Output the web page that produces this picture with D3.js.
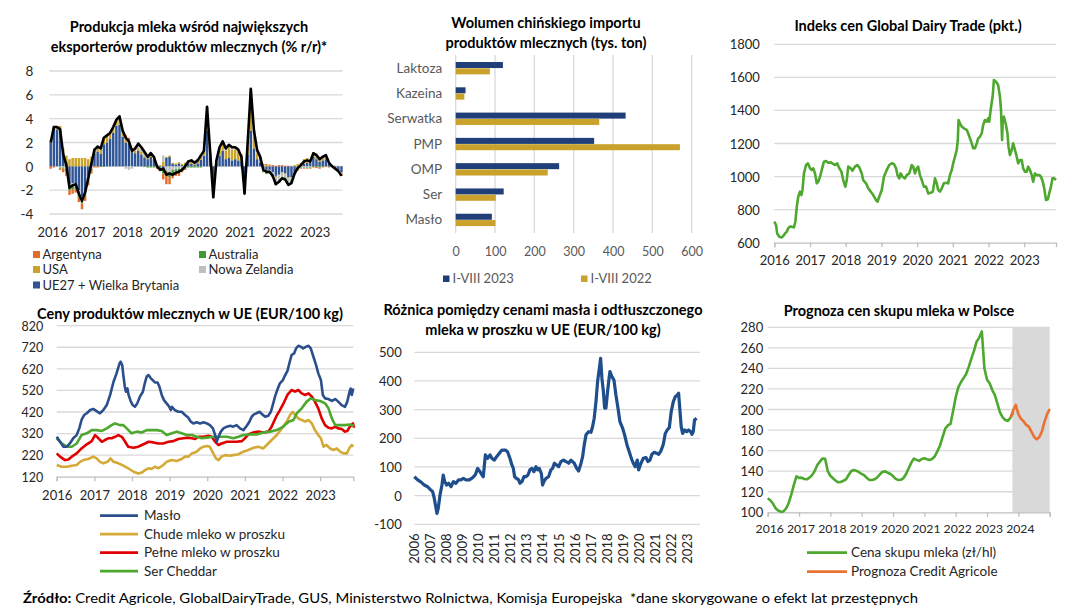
<!DOCTYPE html>
<html><head><meta charset="utf-8">
<script src="https://cdn.jsdelivr.net/npm/d3@7"></script>
<style>body{margin:0;background:#fff}svg{display:block}</style>
</head><body><svg id="c" width="1083" height="609"></svg>
<script>
// ================= DATA =================
// Panel 1: milk production y/y (%) monthly from Jan 2016
const prodStart = 2016;
const prodYears = [2016,2017,2018,2019,2020,2021,2022,2023];
const prodTicks = [-4,-2,0,2,4,6,8];
const prodEU = [2.0,3.25,3.1,3.2,1.1,0.4,-1.5,-1.4,-1.4,-2.0,-2.5,-2.0,
 -0.8,0.3,1.1,1.25,1.05,1.85,2.0,2.3,2.8,3.4,3.5,2.5,
 2.0,1.9,1.2,1.1,1.3,1.0,0.75,0.6,0.8,0.6,0.0,-0.1,
 -0.3,0.7,0.8,0.2,0.15,0.25,0.1,0.1,0.3,0.2,0.1,0.25,
 0.55,0.9,3.0,0.8,-1.6,0.3,0.9,1.3,0.6,0.7,0.5,0.6,
 0.5,0.4,-1.4,1.0,3.0,1.5,0.6,0.3,-0.2,-0.3,-0.3,-0.5,
 -0.8,-0.7,-0.5,-0.6,-0.9,-0.9,-0.5,-0.2,0.0,0.2,0.3,0.3,
 0.8,0.6,0.4,0.5,0.6,0.2,0.0,-0.2,-0.3,-0.5];
const prodUSA = [0.1,0.15,0.2,0.2,0.4,0.5,0.6,0.7,0.7,0.7,0.7,0.7,
 0.6,0.5,0.4,0.4,0.4,0.5,0.5,0.5,0.4,0.4,0.4,0.3,
 0.3,0.3,0.2,0.2,0.2,0.2,0.1,0.1,0.1,0.1,0.1,0.1,
 0.4,0.1,0.1,0.1,0.1,0.1,0.1,0.2,0.2,0.3,0.3,0.3,
 0.3,0.3,1.2,0.3,-0.6,0.2,0.6,0.7,0.7,0.9,0.9,0.8,
 0.7,0.5,-0.6,0.6,2.0,1.0,0.5,0.3,0.1,0.1,0.05,0.0,
 -0.1,-0.05,-0.05,-0.05,-0.1,0.0,0.1,0.2,0.3,0.4,0.4,0.3,
 0.4,0.4,0.3,0.3,0.3,0.1,0.05,0.05,0.0,-0.05];
const prodNZ = [0.1,0.0,0.0,-0.1,-0.1,-0.2,-0.3,-0.3,-0.3,-0.4,-0.5,-0.4,
 -0.3,-0.2,0.0,0.1,0.1,0.1,0.1,0.0,0.1,0.1,0.2,0.0,
 -0.2,-0.3,-0.2,0.1,0.3,0.3,0.3,0.2,0.3,0.2,0.1,0.0,
 0.5,-0.4,-0.5,-0.3,-0.25,-0.2,-0.1,0.0,0.0,0.1,0.0,0.0,
 0.1,0.1,0.6,0.1,-0.3,0.0,0.1,0.1,0.2,0.2,0.2,0.1,
 0.1,-0.2,-0.2,0.3,1.0,0.3,0.1,0.0,-0.2,-0.2,-0.2,-0.3,
 -0.5,-0.5,-0.4,-0.3,-0.4,-0.3,0.0,0.0,-0.1,-0.1,-0.1,-0.1,
 0.0,0.1,0.1,0.1,0.1,0.1,0.0,0.0,-0.05,-0.1];
const prodARG = [-0.2,-0.1,0.0,-0.1,-0.3,-0.4,-0.4,-0.4,-0.3,-0.4,-0.5,-0.4,
 -0.4,-0.3,-0.1,-0.1,0.0,0.0,0.0,0.0,0.0,0.0,0.1,0.2,
 0.3,0.2,0.1,0.1,0.1,0.1,0.1,0.0,0.0,0.0,-0.1,-0.2,
 -0.5,-0.7,-0.6,-0.4,-0.3,-0.3,-0.2,-0.1,0.0,0.0,0.0,0.05,
 0.05,0.0,0.1,0.0,-0.05,0.0,0.0,0.0,0.0,0.0,0.0,0.1,
 0.1,0.1,-0.05,0.1,0.3,0.1,0.2,0.2,0.1,0.1,0.1,0.1,
 0.05,0.1,0.1,0.05,0.05,0.0,0.0,-0.05,-0.05,-0.05,-0.05,-0.05,
 -0.05,-0.1,-0.1,-0.05,-0.05,-0.05,-0.05,-0.05,-0.05,-0.1];
const prodAUS = [0.0,0.0,0.0,-0.1,-0.1,-0.2,-0.2,-0.2,-0.2,-0.2,-0.1,-0.1,
 -0.1,-0.1,0.0,0.0,-0.05,-0.05,0.0,0.0,0.0,0.0,0.0,0.0,
 0.0,0.0,0.0,0.0,0.0,0.0,-0.05,-0.1,-0.1,-0.1,-0.1,-0.1,
 -0.3,-0.4,-0.4,-0.3,-0.25,-0.3,-0.2,-0.2,-0.1,-0.1,-0.1,-0.1,
 -0.1,0.0,0.1,0.0,-0.05,0.0,0.0,0.0,0.0,0.0,0.0,0.0,
 0.0,0.0,-0.05,0.0,0.2,0.1,0.0,0.0,-0.1,-0.15,-0.1,-0.1,
 -0.15,-0.15,-0.15,-0.2,-0.2,-0.2,-0.2,-0.1,-0.05,-0.05,-0.05,-0.05,
 -0.05,-0.05,-0.1,-0.05,0.0,-0.05,0.0,0.0,0.0,-0.05];
const prodTotal = [2.0,3.3,3.3,3.1,1.0,0.1,-1.8,-1.6,-1.5,-2.3,-2.9,-2.2,
 -1.0,0.2,1.4,1.65,1.5,2.4,2.6,2.8,3.3,3.9,4.2,3.0,
 2.4,2.1,1.3,1.5,1.9,1.6,1.2,0.8,1.1,0.8,0.0,-0.3,
 -0.2,-0.7,-0.6,-0.7,-0.55,-0.45,-0.3,0.0,0.4,0.5,0.3,0.5,
 0.9,1.3,5.0,1.2,-2.6,0.5,1.6,2.1,1.5,1.8,1.6,1.6,
 1.4,0.8,-2.3,2.0,6.5,3.0,1.4,0.8,-0.3,-0.45,-0.45,-0.8,
 -1.5,-1.3,-1.0,-1.1,-1.55,-1.4,-0.6,-0.15,0.1,0.4,0.5,0.4,
 1.1,0.95,0.6,0.8,0.95,0.3,0.0,-0.2,-0.4,-0.8];

// Panel 2: Chinese imports (thous. t)
const chinaCategories = ["Laktoza","Kazeina","Serwatka","PMP","OMP","Ser","Masło"];
const china2023 = [120,25,432,352,263,122,92];
const china2022 = [87,22,365,570,234,102,101];
const chinaTicks = [0,100,200,300,400,500,600];

// Panel 3: GDT index [year, points]
const gdtIndex = [[2016.00,727],[2016.05,707],[2016.08,656],[2016.14,636],[2016.21,632],[2016.25,640],[2016.30,656],[2016.35,667],[2016.39,687],[2016.44,697],[2016.49,697],[2016.55,693],[2016.59,727],[2016.63,818],[2016.67,878],[2016.72,909],[2016.76,888],[2016.79,919],[2016.83,1019],[2016.89,1070],[2016.94,1080],[2017.00,1050],[2017.05,1040],[2017.09,1050],[2017.14,1019],[2017.19,959],[2017.23,969],[2017.28,999],[2017.33,1040],[2017.39,1090],[2017.45,1094],[2017.51,1084],[2017.58,1086],[2017.65,1076],[2017.71,1070],[2017.76,1080],[2017.82,1050],[2017.88,1030],[2017.93,979],[2017.99,939],[2018.03,979],[2018.07,1060],[2018.14,1050],[2018.19,1036],[2018.26,1060],[2018.32,1070],[2018.38,1056],[2018.45,1019],[2018.49,979],[2018.57,959],[2018.63,929],[2018.70,909],[2018.77,888],[2018.85,858],[2018.89,848],[2018.94,878],[2019.01,919],[2019.07,999],[2019.15,1040],[2019.22,1070],[2019.29,1080],[2019.35,1076],[2019.41,1050],[2019.45,1009],[2019.50,989],[2019.54,1019],[2019.59,999],[2019.66,989],[2019.71,1009],[2019.78,1019],[2019.85,1070],[2019.89,1060],[2019.94,1019],[2019.99,1050],[2020.03,1060],[2020.08,1009],[2020.13,979],[2020.19,939],[2020.25,939],[2020.31,898],[2020.38,902],[2020.44,909],[2020.50,989],[2020.55,959],[2020.59,919],[2020.64,909],[2020.69,929],[2020.75,959],[2020.83,963],[2020.87,959],[2020.92,1009],[2020.97,1040],[2021.01,1080],[2021.06,1120],[2021.11,1161],[2021.14,1221],[2021.16,1342],[2021.20,1322],[2021.25,1302],[2021.31,1292],[2021.39,1282],[2021.43,1262],[2021.48,1231],[2021.53,1201],[2021.57,1171],[2021.62,1171],[2021.67,1201],[2021.71,1231],[2021.76,1241],[2021.81,1262],[2021.85,1312],[2021.90,1342],[2021.95,1332],[2021.99,1352],[2022.02,1332],[2022.06,1403],[2022.12,1493],[2022.15,1584],[2022.21,1574],[2022.27,1554],[2022.32,1483],[2022.35,1403],[2022.38,1221],[2022.40,1352],[2022.43,1362],[2022.49,1312],[2022.53,1262],[2022.56,1181],[2022.60,1130],[2022.65,1161],[2022.69,1201],[2022.74,1161],[2022.79,1120],[2022.83,1080],[2022.88,1100],[2022.93,1100],[2022.97,1050],[2023.02,1030],[2023.07,1030],[2023.11,1060],[2023.16,1040],[2023.21,1009],[2023.25,969],[2023.30,1019],[2023.35,1009],[2023.42,1009],[2023.47,999],[2023.52,969],[2023.56,929],[2023.61,858],[2023.66,862],[2023.70,898],[2023.75,939],[2023.79,989],[2023.84,989],[2023.89,979]];
const gdtTicks = [600,800,1000,1200,1400,1600,1800];
const gdtYears = [2016,2017,2018,2019,2020,2021,2022,2023];

// Panel 4: EU dairy prices (EUR/100 kg) [year, value]
const euMaslo = [[2016.00,305],[2016.09,282],[2016.18,259],[2016.27,259],[2016.35,274],[2016.44,298],[2016.53,313],[2016.60,344],[2016.66,383],[2016.73,406],[2016.80,414],[2016.89,429],[2016.97,434],[2017.06,424],[2017.15,414],[2017.24,429],[2017.33,452],[2017.42,499],[2017.51,560],[2017.59,599],[2017.67,645],[2017.70,653],[2017.74,638],[2017.77,591],[2017.81,537],[2017.84,514],[2017.88,529],[2017.91,499],[2017.97,468],[2018.02,452],[2018.08,444],[2018.14,460],[2018.21,491],[2018.29,514],[2018.34,553],[2018.39,584],[2018.44,591],[2018.50,576],[2018.55,568],[2018.61,557],[2018.68,557],[2018.73,537],[2018.79,499],[2018.85,475],[2018.92,460],[2018.99,444],[2019.03,429],[2019.06,444],[2019.14,429],[2019.23,421],[2019.32,421],[2019.41,406],[2019.50,393],[2019.56,375],[2019.63,367],[2019.72,372],[2019.81,367],[2019.90,372],[2019.99,367],[2020.07,359],[2020.15,344],[2020.21,313],[2020.25,282],[2020.30,305],[2020.36,329],[2020.43,344],[2020.52,352],[2020.61,356],[2020.69,352],[2020.78,359],[2020.87,344],[2020.96,336],[2021.05,356],[2021.12,375],[2021.18,398],[2021.24,409],[2021.31,414],[2021.39,421],[2021.46,409],[2021.54,398],[2021.62,403],[2021.69,421],[2021.74,452],[2021.80,491],[2021.86,522],[2021.93,553],[2022.01,568],[2022.07,591],[2022.13,610],[2022.18,645],[2022.24,684],[2022.31,692],[2022.36,715],[2022.42,727],[2022.48,723],[2022.55,715],[2022.63,723],[2022.69,727],[2022.75,715],[2022.82,676],[2022.89,638],[2022.95,599],[2023.02,568],[2023.07,499],[2023.13,483],[2023.22,480],[2023.31,471],[2023.40,480],[2023.48,468],[2023.57,452],[2023.66,444],[2023.72,468],[2023.78,514],[2023.81,529],[2023.84,499],[2023.88,529]];
const euChude = [[2016.00,174],[2016.13,166],[2016.27,166],[2016.40,171],[2016.53,174],[2016.62,189],[2016.71,197],[2016.84,202],[2016.97,213],[2017.06,205],[2017.15,189],[2017.24,182],[2017.35,189],[2017.43,205],[2017.51,189],[2017.64,182],[2017.77,171],[2017.90,159],[2018.04,143],[2018.17,135],[2018.26,139],[2018.35,151],[2018.44,159],[2018.52,156],[2018.61,166],[2018.70,159],[2018.83,174],[2018.92,189],[2019.06,197],[2019.19,193],[2019.32,202],[2019.41,213],[2019.50,213],[2019.59,228],[2019.72,236],[2019.81,251],[2019.90,259],[2019.99,262],[2020.07,259],[2020.16,228],[2020.23,205],[2020.30,197],[2020.38,213],[2020.47,220],[2020.61,217],[2020.69,220],[2020.83,224],[2020.96,236],[2021.09,244],[2021.23,254],[2021.36,259],[2021.49,251],[2021.58,267],[2021.71,290],[2021.85,313],[2021.98,344],[2022.11,375],[2022.20,406],[2022.27,421],[2022.33,406],[2022.42,390],[2022.51,383],[2022.60,375],[2022.69,383],[2022.78,367],[2022.86,336],[2022.95,313],[2023.02,298],[2023.09,259],[2023.17,267],[2023.26,251],[2023.35,244],[2023.44,251],[2023.53,236],[2023.62,228],[2023.71,228],[2023.78,254],[2023.84,267],[2023.88,259]];
const euPelne = [[2016.00,228],[2016.09,213],[2016.22,197],[2016.31,200],[2016.40,213],[2016.53,228],[2016.66,251],[2016.80,270],[2016.93,285],[2017.02,313],[2017.11,298],[2017.20,282],[2017.28,290],[2017.37,298],[2017.46,298],[2017.55,305],[2017.64,313],[2017.73,305],[2017.82,282],[2017.90,259],[2018.04,254],[2018.17,259],[2018.26,267],[2018.35,274],[2018.44,282],[2018.57,279],[2018.70,274],[2018.83,274],[2018.97,282],[2019.10,285],[2019.23,295],[2019.37,298],[2019.50,301],[2019.59,298],[2019.68,295],[2019.76,305],[2019.90,305],[2020.03,310],[2020.12,305],[2020.21,282],[2020.30,267],[2020.38,274],[2020.52,282],[2020.65,282],[2020.78,282],[2020.92,285],[2021.00,298],[2021.09,316],[2021.22,325],[2021.36,329],[2021.49,325],[2021.62,329],[2021.71,352],[2021.83,398],[2021.93,429],[2022.04,465],[2022.13,499],[2022.24,522],[2022.33,514],[2022.42,522],[2022.51,506],[2022.60,499],[2022.69,506],[2022.78,491],[2022.86,468],[2022.95,437],[2023.04,390],[2023.13,359],[2023.22,347],[2023.31,344],[2023.40,352],[2023.48,344],[2023.57,341],[2023.66,329],[2023.72,332],[2023.79,352],[2023.87,367],[2023.90,347]];
const euCheddar = [[2016.00,298],[2016.13,274],[2016.27,259],[2016.40,259],[2016.53,274],[2016.66,313],[2016.80,321],[2016.93,336],[2017.06,336],[2017.20,332],[2017.33,344],[2017.46,359],[2017.55,367],[2017.68,359],[2017.77,359],[2017.86,344],[2017.99,321],[2018.13,329],[2018.26,325],[2018.39,336],[2018.52,336],[2018.66,336],[2018.79,332],[2018.92,313],[2019.06,321],[2019.19,329],[2019.32,321],[2019.45,313],[2019.59,313],[2019.72,305],[2019.85,298],[2019.99,301],[2020.16,305],[2020.34,305],[2020.52,305],[2020.69,298],[2020.83,305],[2020.96,313],[2021.14,316],[2021.31,316],[2021.49,325],[2021.67,329],[2021.85,336],[2022.02,352],[2022.16,375],[2022.29,383],[2022.38,414],[2022.51,437],[2022.64,468],[2022.75,483],[2022.86,475],[2023.00,471],[2023.13,460],[2023.22,437],[2023.31,390],[2023.40,359],[2023.53,359],[2023.66,359],[2023.79,362],[2023.90,356]];
const euTicks = [120,220,320,420,520,620,720,820];
const euYears = [2016,2017,2018,2019,2020,2021,2022,2023];
const euNames = ["Masło","Chude mleko w proszku","Pełne mleko w proszku","Ser Cheddar"];

// Panel 5: butter - SMP spread [year, EUR/100kg]
const spread = [[2006.00,66],[2006.21,55],[2006.42,47],[2006.62,37],[2006.83,31],[2006.97,23],[2007.14,14],[2007.24,-9],[2007.35,-44],[2007.41,-62],[2007.49,-44],[2007.60,2],[2007.72,37],[2007.80,72],[2007.89,49],[2008.01,37],[2008.14,43],[2008.28,31],[2008.43,49],[2008.59,43],[2008.76,55],[2008.90,55],[2009.05,60],[2009.21,55],[2009.42,55],[2009.63,63],[2009.79,72],[2009.94,95],[2010.08,84],[2010.21,72],[2010.29,66],[2010.42,142],[2010.56,130],[2010.71,142],[2010.83,130],[2010.98,124],[2011.12,136],[2011.29,148],[2011.45,159],[2011.66,159],[2011.80,153],[2011.95,130],[2012.07,107],[2012.16,95],[2012.24,66],[2012.36,60],[2012.49,55],[2012.57,43],[2012.70,49],[2012.82,66],[2012.94,66],[2013.07,72],[2013.19,90],[2013.32,95],[2013.44,84],[2013.57,101],[2013.67,90],[2013.77,95],[2013.90,78],[2013.98,37],[2014.06,49],[2014.19,60],[2014.35,66],[2014.50,90],[2014.60,95],[2014.71,113],[2014.85,107],[2014.98,101],[2015.12,119],[2015.27,124],[2015.43,119],[2015.60,113],[2015.74,124],[2015.95,113],[2016.10,95],[2016.22,86],[2016.37,113],[2016.47,136],[2016.57,177],[2016.68,212],[2016.84,223],[2016.99,221],[2017.09,241],[2017.19,270],[2017.30,328],[2017.40,398],[2017.51,444],[2017.59,479],[2017.67,409],[2017.75,369],[2017.84,305],[2017.92,305],[2018.00,351],[2018.09,398],[2018.17,433],[2018.29,415],[2018.42,403],[2018.54,351],[2018.67,305],[2018.79,258],[2018.96,235],[2019.08,212],[2019.23,177],[2019.37,153],[2019.50,130],[2019.62,113],[2019.74,101],[2019.87,124],[2019.95,90],[2020.10,113],[2020.24,130],[2020.41,133],[2020.53,119],[2020.66,124],[2020.78,144],[2020.93,151],[2021.07,148],[2021.20,144],[2021.34,156],[2021.49,179],[2021.61,217],[2021.73,229],[2021.86,237],[2021.98,293],[2022.11,328],[2022.23,345],[2022.36,351],[2022.44,357],[2022.52,299],[2022.60,241],[2022.69,217],[2022.81,229],[2022.94,223],[2023.06,229],[2023.19,223],[2023.27,214],[2023.35,223],[2023.43,264],[2023.56,270]];
const spreadTicks = [-100,0,100,200,300,400,500];
const spreadYears = d3.range(2006, 2024);

// Panel 6: milk purchase price in Poland (zł/hl), monthly from Jan 2016
const milkStart = 2016;
const milkPrice = [113.6,111.7,108.5,104,101.8,100.6,100.8,103.5,108.8,117,126.5,135,
 133.5,133.7,132.4,132.1,133.7,136.2,140.2,146,149.3,152.4,152,140,
 135.5,133.2,130.8,129.2,129.5,130.7,132,136.3,140.2,141.2,140.3,139,
 137.3,135.9,133.4,131.4,131.4,132.2,134.1,137,139.5,139.8,138.5,137.3,
 135.3,132.5,131.5,131.6,133.3,137.2,142.8,148.3,152.3,151,150,151.9,
 152.5,151.6,150.9,152,154.5,159.5,165,173.4,181.5,184.5,186,198.5,
 212,221.5,226.5,230.5,234.5,241.5,249.5,257,266,270,276,240,
 229,225.5,219,214,205.5,197,192.3,189.8,188.9,192,197];
const forecastStartMonth = 93;
const milkForecast = [192,199,204.5,195.5,191,188.5,185,183.3,178.5,173.6,171,173,178.5,188,195.5,200.5];
const forecastShadeFrom = 2023.81;
const milkTicks = [100,120,140,160,180,200,220,240,260,280];
const milkYears = [2016,2017,2018,2019,2020,2021,2022,2023,2024];

// ================= DRAWING =================
const FONT = 'Lato, "Noto Sans", sans-serif';
const GRID = '#d9d9d9', TXT = '#262626', NUM = 13;
const svg = d3.select('#c').attr('font-family', FONT);
svg.append('rect').attr('width',1083).attr('height',609).attr('fill','#fff');

function titleLines(lines, cx, ys, size) {
  lines.forEach((t,i)=>svg.append('text').attr('x',cx).attr('y',ys[i]).attr('dy','0.35em')
    .attr('text-anchor','middle').attr('font-weight','bold').attr('font-size',size||14.5)
    .attr('fill','#000').text(t));
}
function hGrid(ticks, y, xa, xb) {
  svg.append('g').selectAll('line').data(ticks).join('line')
    .attr('x1',xa).attr('x2',xb).attr('y1',d=>y(d)).attr('y2',d=>y(d))
    .attr('stroke',GRID).attr('stroke-width',1.3);
}
function yAxis(scale, ticks, xPos, pad, size, color) {
  const g = svg.append('g').attr('transform',`translate(${xPos},0)`)
    .call(d3.axisLeft(scale).tickValues(ticks).tickSize(0).tickPadding(pad).tickFormat(d=>d));
  g.select('.domain').remove();
  g.selectAll('text').attr('font-size',size).attr('fill',color||TXT).attr('font-family',FONT).attr('dy','0.35em');
  return g;
}
function xAxisBottom(scale, ticks, yPos, labelY, size, tickLen, color) {
  const g = svg.append('g').attr('transform',`translate(0,${yPos})`)
    .call(d3.axisBottom(scale).tickValues(ticks).tickSize(tickLen).tickFormat(d3.format('d')));
  g.select('.domain').attr('stroke','#bfbfbf').attr('stroke-width',1.3);
  g.selectAll('.tick line').attr('stroke','#bfbfbf').attr('stroke-width',1.3);
  g.selectAll('text').attr('font-size',size).attr('fill',color||TXT).attr('font-family',FONT)
    .attr('y',labelY-yPos).attr('dy','0.35em');
  return g;
}

// ---------- Panel 1 ----------
titleLines(["Produkcja mleka wśród największych","eksporterów produktów mlecznych (% r/r)*"],189,[26.5,46.5]);
const x1 = d3.scaleBand().domain(d3.range(prodTotal.length)).range([49.5,342.7]).paddingInner(0.22).paddingOuter(0);
const y1 = d3.scaleLinear().domain([-4,8]).range([214,71]);
hGrid(prodTicks, y1, 49.3, 342.5);
yAxis(y1, prodTicks, 49.3, 16, 13.5);
const rows1 = prodTotal.map((t,i)=>({eu:prodEU[i],usa:prodUSA[i],nz:prodNZ[i],aus:prodAUS[i],arg:prodARG[i]}));
const keys1 = ['eu','usa','nz','aus','arg'];
const col1 = {eu:'#2f5597',usa:'#c9a227',nz:'#bfbfbf',aus:'#3f9a35',arg:'#e46c2a'};
const stack1 = d3.stack().keys(keys1).offset(d3.stackOffsetDiverging)(rows1);
svg.append('g').selectAll('g').data(stack1).join('g').attr('fill',d=>col1[d.key])
  .selectAll('rect').data(d=>d).join('rect')
  .attr('x',(d,i)=>x1(i)).attr('width',x1.bandwidth())
  .attr('y',d=>y1(Math.max(d[0],d[1]))).attr('height',d=>Math.abs(y1(d[0])-y1(d[1])));
svg.append('path').datum(prodTotal)
  .attr('d',d3.line().x((d,i)=>x1(i)+x1.bandwidth()/2).y(d=>y1(d)))
  .attr('fill','none').attr('stroke','#000').attr('stroke-width',2.6).attr('stroke-linejoin','round');
svg.append('g').selectAll('text').data(prodYears).join('text')
  .attr('x',d=>x1((d-prodStart)*12+1)).attr('y',232).attr('dy','0.35em').attr('text-anchor','middle')
  .attr('font-size',NUM).attr('fill',TXT).text(d=>d);
const leg1 = [{k:'arg',t:'Argentyna',x:33,y:254.5},{k:'aus',t:'Australia',x:199,y:254.5},
  {k:'usa',t:'USA',x:33,y:269.5},{k:'nz',t:'Nowa Zelandia',x:199,y:269.5},{k:'eu',t:'UE27 + Wielka Brytania',x:33,y:285}];
leg1.forEach(l=>{
  svg.append('rect').attr('x',l.x).attr('y',l.y-3.5).attr('width',7).attr('height',7).attr('fill',col1[l.k]);
  svg.append('text').attr('x',l.x+9.5).attr('y',l.y).attr('dy','0.35em').attr('font-size',13).attr('fill',TXT).text(l.t);
});

// ---------- Panel 2 ----------
titleLines(["Wolumen chińskiego importu","produktów mlecznych (tys. ton)"],546,[22.5,42.5]);
const x2 = d3.scaleLinear().domain([0,600]).range([455.7,691.7]);
const y2 = d3.scaleBand().domain(chinaCategories).range([55.7,232.7]).paddingInner(0.5).paddingOuter(0.25);
const y2s = d3.scaleBand().domain(['2023','2022']).range([0,y2.bandwidth()]);
svg.append('g').selectAll('line').data(chinaTicks).join('line')
  .attr('x1',d=>x2(d)).attr('x2',d=>x2(d)).attr('y1',55).attr('y2',233)
  .attr('stroke',GRID).attr('stroke-width',1.3);
const rows2 = chinaCategories.map((c,i)=>({c, v:[{k:'2023',v:china2023[i]},{k:'2022',v:china2022[i]}]}));
const col2 = {'2023':'#203f78','2022':'#c9a12b'};
svg.append('g').selectAll('g').data(rows2).join('g').attr('transform',d=>`translate(0,${y2(d.c)})`)
  .selectAll('rect').data(d=>d.v).join('rect')
  .attr('x',x2(0)).attr('y',d=>y2s(d.k)).attr('height',y2s.bandwidth()-0.3)
  .attr('width',d=>x2(d.v)-x2(0)).attr('fill',d=>col2[d.k]);
const g2y = svg.append('g').attr('transform',`translate(${x2(0)},0)`)
  .call(d3.axisLeft(y2).tickSize(0).tickPadding(13.5));
g2y.select('.domain').remove();
g2y.selectAll('text').attr('font-size',13.5).attr('fill','#595959').attr('font-family',FONT);
const g2x = svg.append('g').attr('transform','translate(0,233)')
  .call(d3.axisBottom(x2).tickValues(chinaTicks).tickSize(0));
g2x.select('.domain').remove();
g2x.selectAll('text').attr('font-size',12.5).attr('fill','#595959').attr('font-family',FONT).attr('y',19).attr('dy','0.35em');
[{k:'2023',t:'I-VIII 2023',x:443},{k:'2022',t:'I-VIII 2022',x:581}].forEach(l=>{
  svg.append('rect').attr('x',l.x).attr('y',275.5).attr('width',6.5).attr('height',6.5).attr('fill',col2[l.k]);
  svg.append('text').attr('x',l.x+9.5).attr('y',278.7).attr('dy','0.35em').attr('font-size',13).attr('fill','#595959').text(l.t);
});

// ---------- Panel 3 ----------
titleLines(["Indeks cen Global Dairy Trade (pkt.)"],908,[26]);
const x3 = d3.scaleLinear().domain([2016,2023.89]).range([774.3,1056]);
const y3 = d3.scaleLinear().domain([600,1800]).range([242.7,44.3]);
hGrid(gdtTicks.slice(1), y3, 774.3, 1056);
yAxis(y3, gdtTicks, 774.3, 14.5, NUM);
xAxisBottom(x3, gdtYears, 242.7, 260.7, NUM, 4.5);
svg.append('path').datum(gdtIndex).attr('d',d3.line().x(d=>x3(d[0])).y(d=>y3(d[1])))
  .attr('fill','none').attr('stroke','#4ea72e').attr('stroke-width',2.6).attr('stroke-linejoin','round');

// ---------- Panel 4 ----------
titleLines(["Ceny produktów mlecznych w UE (EUR/100 kg)"],190,[314]);
const x4 = d3.scaleLinear().domain([2016,2023.88]).range([56.7,353.3]);
const y4 = d3.scaleLinear().domain([120,820]).range([476.7,325.7]);
hGrid(euTicks.slice(1), y4, 56.7, 353.3);
yAxis(y4, euTicks, 56.7, 13.5, 12.5);
xAxisBottom(x4, euYears, 476.7, 495, NUM, 4.5);
const col4 = ['#2b4f8c','#d4a937','#e00000','#4ea72e'];
const line4 = d3.line().x(d=>x4(d[0])).y(d=>y4(d[1]));
[euChude, euPelne, euCheddar, euMaslo].forEach((s,i)=>{
  const ci = [1,2,3,0][i];
  svg.append('path').datum(s).attr('d',line4).attr('fill','none').attr('stroke',col4[ci])
    .attr('stroke-width',2.6).attr('stroke-linejoin','round');
});
euNames.forEach((n,i)=>{
  const y = [515.7,534.2,552.7,571.2][i];
  svg.append('line').attr('x1',100).attr('x2',138).attr('y1',y).attr('y2',y).attr('stroke',col4[i]).attr('stroke-width',2.8);
  svg.append('text').attr('x',144).attr('y',y).attr('dy','0.35em').attr('font-size',13.5).attr('fill',TXT).text(n);
});

// ---------- Panel 5 ----------
titleLines(["Różnica pomiędzy cenami masła i odtłuszczonego","mleka w proszku w UE (EUR/100 kg)"],543,[310,330]);
const x5 = d3.scaleLinear().domain([2006,2023.77]).range([414.3,700]);
const y5 = d3.scaleLinear().domain([-100,500]).range([524.3,352.3]);
hGrid(spreadTicks, y5, 414.3, 700);
yAxis(y5, spreadTicks, 414.3, 12.6, NUM);
svg.append('g').selectAll('text').data(spreadYears).join('text')
  .attr('transform',d=>`translate(${x5(d)},533.5) rotate(-90)`)
  .attr('text-anchor','end').attr('dy','0.35em').attr('font-size',NUM).attr('fill',TXT).text(d=>d);
svg.append('path').datum(spread).attr('d',d3.line().x(d=>x5(d[0])).y(d=>y5(d[1])))
  .attr('fill','none').attr('stroke','#1f4e8c').attr('stroke-width',3.2).attr('stroke-linejoin','round');

// ---------- Panel 6 ----------
titleLines(["Prognoza cen skupu mleka w Polsce"],899,[311]);
const x6 = d3.scaleLinear().domain([2016,2025]).range([767.7,1049.7]);
const y6 = d3.scaleLinear().domain([100,280]).range([512.3,327.3]);
hGrid(milkTicks.slice(1), y6, 767.7, 1049.7);
svg.append('rect').attr('x',x6(forecastShadeFrom)).attr('y',y6(280)).attr('width',x6(2025)-x6(forecastShadeFrom))
  .attr('height',y6(100)-y6(280)).attr('fill','#d9d9d9');
yAxis(y6, milkTicks, 767.7, 4.5, NUM);
const g6x = xAxisBottom(x6, milkYears.concat([2025]), 512.3, 528.3, 12.2, 4.5);
g6x.selectAll('text').attr('x',1.5).filter(d=>d===2025).remove();
svg.append('path').datum(milkPrice).attr('d',d3.line().x((d,i)=>x6(milkStart+i/12)).y(d=>y6(d)))
  .attr('fill','none').attr('stroke','#4ea72e').attr('stroke-width',2.6).attr('stroke-linejoin','round');
svg.append('path').datum(milkForecast).attr('d',d3.line().x((d,i)=>x6(milkStart+(forecastStartMonth+i)/12)).y(d=>y6(d)))
  .attr('fill','none').attr('stroke','#e97132').attr('stroke-width',2.6).attr('stroke-linejoin','round');
[{t:'Cena skupu mleka (zł/hl)',c:'#4ea72e',y:552.7},{t:'Prognoza Credit Agricole',c:'#e97132',y:571.7}].forEach(l=>{
  svg.append('line').attr('x1',807).attr('x2',847).attr('y1',l.y).attr('y2',l.y).attr('stroke',l.c).attr('stroke-width',2.8);
  svg.append('text').attr('x',851).attr('y',l.y).attr('dy','0.35em').attr('font-size',13.5).attr('fill',TXT).text(l.t);
});

// ---------- Footer ----------
const ft = svg.append('text').attr('x',23).attr('y',598.5).attr('dy','0.35em').attr('font-size',13).attr('fill','#000')
  .attr('textLength',895).attr('lengthAdjust','spacingAndGlyphs');
ft.append('tspan').attr('font-weight','bold').text('Źródło:');
ft.append('tspan').text(' Credit Agricole, GlobalDairyTrade, GUS, Ministerstwo Rolnictwa, Komisja Europejska\u00a0 *dane skorygowane o efekt lat przestępnych');
</script></body></html>
